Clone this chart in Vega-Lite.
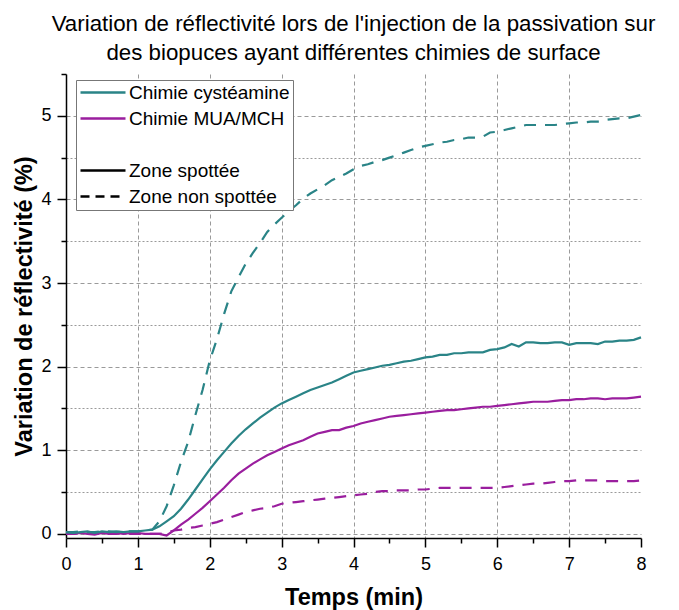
{
  "$schema": "https://vega.github.io/schema/vega-lite/v6.json",
  "width": 575,
  "height": 464,
  "autosize": {"type": "none"},
  "padding": {"left": 66, "top": 74, "right": 38, "bottom": 72},
  "background": "white",
  "config": {
    "view": {"stroke": null},
    "font": "Liberation Sans",
    "axis": {
      "domainColor": "#000", "domainWidth": 1.5, "tickColor": "#000", "tickWidth": 1.5,
      "labelFont": "Liberation Sans", "labelFontSize": 18, "labelColor": "#000",
      "titleFont": "Liberation Sans", "titleFontSize": 23.5, "titleFontWeight": "bold", "titleColor": "#000",
      "gridColor": "#9a9a9a", "gridWidth": 1
    }
  },
  "title": {
    "text": ["Variation de réflectivité lors de l'injection de la passivation sur", "des biopuces ayant différentes chimies de surface"],
    "font": "Liberation Sans", "fontSize": 22.3, "fontWeight": "normal", "color": "#000",
    "anchor": "middle", "frame": "group", "offset": 9, "lineHeight": 28.5
  },
  "datasets": {
    "cs": [
      {"t":0.0,"v":0.02},{"t":0.1,"v":0.01},{"t":0.2,"v":0.02},{"t":0.3,"v":0.03},{"t":0.4,"v":0.01},{"t":0.5,"v":0.03},{"t":0.6,"v":0.02},{"t":0.7,"v":0.03},{"t":0.8,"v":0.02},{"t":0.9,"v":0.03},
      {"t":1.0,"v":0.03},{"t":1.1,"v":0.04},{"t":1.2,"v":0.05},{"t":1.3,"v":0.09},{"t":1.4,"v":0.15},{"t":1.5,"v":0.21},{"t":1.6,"v":0.30},{"t":1.7,"v":0.41},{"t":1.8,"v":0.53},{"t":1.9,"v":0.65},
      {"t":2.0,"v":0.77},{"t":2.1,"v":0.88},{"t":2.2,"v":0.98},{"t":2.3,"v":1.08},{"t":2.4,"v":1.17},{"t":2.5,"v":1.25},{"t":2.6,"v":1.32},{"t":2.7,"v":1.39},{"t":2.8,"v":1.45},{"t":2.9,"v":1.51},
      {"t":3.0,"v":1.56},{"t":3.1,"v":1.60},{"t":3.2,"v":1.64},{"t":3.3,"v":1.68},{"t":3.4,"v":1.72},{"t":3.5,"v":1.75},{"t":3.6,"v":1.78},{"t":3.7,"v":1.81},{"t":3.8,"v":1.85},{"t":3.9,"v":1.89},
      {"t":4.0,"v":1.93},{"t":4.1,"v":1.95},{"t":4.2,"v":1.97},{"t":4.3,"v":1.99},{"t":4.4,"v":2.01},{"t":4.5,"v":2.02},{"t":4.6,"v":2.04},{"t":4.7,"v":2.06},{"t":4.8,"v":2.07},{"t":4.9,"v":2.09},
      {"t":5.0,"v":2.11},{"t":5.1,"v":2.12},{"t":5.2,"v":2.14},{"t":5.3,"v":2.14},{"t":5.4,"v":2.16},{"t":5.5,"v":2.16},{"t":5.6,"v":2.17},{"t":5.7,"v":2.17},{"t":5.8,"v":2.17},{"t":5.9,"v":2.20},
      {"t":6.0,"v":2.21},{"t":6.1,"v":2.23},{"t":6.2,"v":2.27},{"t":6.3,"v":2.24},{"t":6.4,"v":2.29},{"t":6.5,"v":2.29},{"t":6.6,"v":2.28},{"t":6.7,"v":2.28},{"t":6.8,"v":2.29},{"t":6.9,"v":2.29},
      {"t":7.0,"v":2.26},{"t":7.1,"v":2.28},{"t":7.2,"v":2.28},{"t":7.3,"v":2.28},{"t":7.4,"v":2.27},{"t":7.5,"v":2.30},{"t":7.6,"v":2.30},{"t":7.7,"v":2.31},{"t":7.8,"v":2.31},{"t":7.9,"v":2.32},
      {"t":8.0,"v":2.35}
    ],
    "cn": [
      {"t":0.0,"v":0.02},{"t":0.1,"v":0.02},{"t":0.2,"v":0.03},{"t":0.3,"v":0.02},{"t":0.4,"v":0.02},{"t":0.5,"v":0.03},{"t":0.6,"v":0.03},{"t":0.7,"v":0.02},{"t":0.8,"v":0.03},{"t":0.9,"v":0.03},
      {"t":1.0,"v":0.03},{"t":1.1,"v":0.04},{"t":1.2,"v":0.05},{"t":1.3,"v":0.15},{"t":1.4,"v":0.33},{"t":1.5,"v":0.58},{"t":1.6,"v":0.86},{"t":1.7,"v":1.10},{"t":1.8,"v":1.42},{"t":1.9,"v":1.72},
      {"t":2.0,"v":2.07},{"t":2.1,"v":2.33},{"t":2.2,"v":2.63},{"t":2.3,"v":2.90},{"t":2.4,"v":3.07},{"t":2.5,"v":3.23},{"t":2.6,"v":3.36},{"t":2.7,"v":3.48},{"t":2.8,"v":3.61},{"t":2.9,"v":3.70},
      {"t":3.0,"v":3.78},{"t":3.1,"v":3.86},{"t":3.2,"v":3.93},{"t":3.3,"v":4.01},{"t":3.4,"v":4.07},{"t":3.5,"v":4.12},{"t":3.6,"v":4.17},{"t":3.7,"v":4.23},{"t":3.8,"v":4.27},{"t":3.9,"v":4.31},
      {"t":4.0,"v":4.36},{"t":4.1,"v":4.40},{"t":4.2,"v":4.42},{"t":4.3,"v":4.45},{"t":4.4,"v":4.47},{"t":4.5,"v":4.50},{"t":4.6,"v":4.53},{"t":4.7,"v":4.56},{"t":4.8,"v":4.59},{"t":4.9,"v":4.62},
      {"t":5.0,"v":4.64},{"t":5.1,"v":4.66},{"t":5.2,"v":4.68},{"t":5.3,"v":4.69},{"t":5.4,"v":4.71},{"t":5.5,"v":4.72},{"t":5.6,"v":4.74},{"t":5.7,"v":4.74},{"t":5.8,"v":4.75},{"t":5.9,"v":4.80},
      {"t":6.0,"v":4.81},{"t":6.1,"v":4.83},{"t":6.2,"v":4.85},{"t":6.3,"v":4.87},{"t":6.4,"v":4.89},{"t":6.5,"v":4.89},{"t":6.6,"v":4.89},{"t":6.7,"v":4.89},{"t":6.8,"v":4.89},{"t":6.9,"v":4.90},
      {"t":7.0,"v":4.91},{"t":7.1,"v":4.92},{"t":7.2,"v":4.92},{"t":7.3,"v":4.93},{"t":7.4,"v":4.93},{"t":7.5,"v":4.95},{"t":7.6,"v":4.96},{"t":7.7,"v":4.97},{"t":7.8,"v":4.97},{"t":7.9,"v":4.99},
      {"t":8.0,"v":5.01}
    ],
    "ms": [
      {"t":0.0,"v":0.01},{"t":0.1,"v":0.00},{"t":0.2,"v":0.01},{"t":0.3,"v":0.00},{"t":0.4,"v":-0.01},{"t":0.5,"v":0.01},{"t":0.6,"v":0.00},{"t":0.7,"v":0.01},{"t":0.8,"v":0.00},{"t":0.9,"v":0.01},
      {"t":1.0,"v":0.01},{"t":1.1,"v":0.00},{"t":1.2,"v":0.00},{"t":1.3,"v":0.00},{"t":1.4,"v":-0.02},{"t":1.5,"v":0.04},{"t":1.6,"v":0.11},{"t":1.7,"v":0.17},{"t":1.8,"v":0.24},{"t":1.9,"v":0.31},
      {"t":2.0,"v":0.39},{"t":2.1,"v":0.47},{"t":2.2,"v":0.55},{"t":2.3,"v":0.64},{"t":2.4,"v":0.72},{"t":2.5,"v":0.78},{"t":2.6,"v":0.84},{"t":2.7,"v":0.89},{"t":2.8,"v":0.94},{"t":2.9,"v":0.98},
      {"t":3.0,"v":1.02},{"t":3.1,"v":1.06},{"t":3.2,"v":1.09},{"t":3.3,"v":1.12},{"t":3.4,"v":1.16},{"t":3.5,"v":1.20},{"t":3.6,"v":1.22},{"t":3.7,"v":1.24},{"t":3.8,"v":1.24},{"t":3.9,"v":1.27},
      {"t":4.0,"v":1.29},{"t":4.1,"v":1.32},{"t":4.2,"v":1.34},{"t":4.3,"v":1.36},{"t":4.4,"v":1.38},{"t":4.5,"v":1.40},{"t":4.6,"v":1.41},{"t":4.7,"v":1.42},{"t":4.8,"v":1.43},{"t":4.9,"v":1.44},
      {"t":5.0,"v":1.45},{"t":5.1,"v":1.46},{"t":5.2,"v":1.47},{"t":5.3,"v":1.48},{"t":5.4,"v":1.48},{"t":5.5,"v":1.49},{"t":5.6,"v":1.50},{"t":5.7,"v":1.51},{"t":5.8,"v":1.52},{"t":5.9,"v":1.52},
      {"t":6.0,"v":1.53},{"t":6.1,"v":1.54},{"t":6.2,"v":1.55},{"t":6.3,"v":1.56},{"t":6.4,"v":1.57},{"t":6.5,"v":1.58},{"t":6.6,"v":1.58},{"t":6.7,"v":1.58},{"t":6.8,"v":1.59},{"t":6.9,"v":1.60},
      {"t":7.0,"v":1.60},{"t":7.1,"v":1.61},{"t":7.2,"v":1.61},{"t":7.3,"v":1.62},{"t":7.4,"v":1.62},{"t":7.5,"v":1.61},{"t":7.6,"v":1.62},{"t":7.7,"v":1.62},{"t":7.8,"v":1.62},{"t":7.9,"v":1.63},
      {"t":8.0,"v":1.64}
    ],
    "mn": [
      {"t":0.0,"v":0.00},{"t":0.1,"v":0.00},{"t":0.2,"v":0.01},{"t":0.3,"v":0.00},{"t":0.4,"v":0.00},{"t":0.5,"v":0.01},{"t":0.6,"v":0.00},{"t":0.7,"v":0.00},{"t":0.8,"v":0.01},{"t":0.9,"v":0.00},
      {"t":1.0,"v":0.00},{"t":1.1,"v":0.00},{"t":1.2,"v":0.00},{"t":1.3,"v":0.00},{"t":1.4,"v":0.01},{"t":1.5,"v":0.04},{"t":1.6,"v":0.05},{"t":1.7,"v":0.07},{"t":1.8,"v":0.08},{"t":1.9,"v":0.10},
      {"t":2.0,"v":0.12},{"t":2.1,"v":0.14},{"t":2.2,"v":0.17},{"t":2.3,"v":0.20},{"t":2.4,"v":0.23},{"t":2.5,"v":0.26},{"t":2.6,"v":0.28},{"t":2.7,"v":0.30},{"t":2.8,"v":0.31},{"t":2.9,"v":0.33},
      {"t":3.0,"v":0.36},{"t":3.1,"v":0.37},{"t":3.2,"v":0.38},{"t":3.3,"v":0.39},{"t":3.4,"v":0.40},{"t":3.5,"v":0.41},{"t":3.6,"v":0.42},{"t":3.7,"v":0.43},{"t":3.8,"v":0.44},{"t":3.9,"v":0.45},
      {"t":4.0,"v":0.46},{"t":4.1,"v":0.47},{"t":4.2,"v":0.48},{"t":4.3,"v":0.50},{"t":4.4,"v":0.51},{"t":4.5,"v":0.51},{"t":4.6,"v":0.52},{"t":4.7,"v":0.52},{"t":4.8,"v":0.52},{"t":4.9,"v":0.53},
      {"t":5.0,"v":0.53},{"t":5.1,"v":0.54},{"t":5.2,"v":0.55},{"t":5.3,"v":0.55},{"t":5.4,"v":0.55},{"t":5.5,"v":0.55},{"t":5.6,"v":0.55},{"t":5.7,"v":0.55},{"t":5.8,"v":0.55},{"t":5.9,"v":0.55},
      {"t":6.0,"v":0.55},{"t":6.1,"v":0.56},{"t":6.2,"v":0.57},{"t":6.3,"v":0.58},{"t":6.4,"v":0.59},{"t":6.5,"v":0.60},{"t":6.6,"v":0.60},{"t":6.7,"v":0.61},{"t":6.8,"v":0.62},{"t":6.9,"v":0.63},
      {"t":7.0,"v":0.63},{"t":7.1,"v":0.64},{"t":7.2,"v":0.64},{"t":7.3,"v":0.64},{"t":7.4,"v":0.64},{"t":7.5,"v":0.63},{"t":7.6,"v":0.63},{"t":7.7,"v":0.63},{"t":7.8,"v":0.63},{"t":7.9,"v":0.63},
      {"t":8.0,"v":0.64}
    ]
  },
  "encoding": {
    "x": {
      "field": "t", "type": "quantitative", "title": "Temps (min)",
      "scale": {"domain": [0, 8], "nice": false, "zero": false},
      "axis": {
        "values": [0,0.5,1,1.5,2,2.5,3,3.5,4,4.5,5,5.5,6,6.5,7,7.5,8],
        "labelExpr": "datum.value % 1 === 0 ? format(datum.value, 'd') : ''",
        "labelFlush": false, "labelPadding": 8,
        "tickSize": {"condition": {"test": "datum.value % 1 !== 0", "value": 5}, "value": 9},
        "gridOpacity": {"condition": {"test": "datum.value % 1 !== 0 || datum.value === 0 || datum.value === 8", "value": 0}, "value": 1},
        "gridDash": [4, 3],
        "titleY": 66, "titleBaseline": "alphabetic"
      }
    },
    "y": {
      "field": "v", "type": "quantitative", "title": "Variation de réflectivité (%)",
      "scale": {"domain": [-0.05, 5.5], "nice": false, "zero": false},
      "axis": {
        "values": [0,0.5,1,1.5,2,2.5,3,3.5,4,4.5,5,5.5],
        "labelExpr": "datum.value % 1 === 0 ? format(datum.value, 'd') : ''",
        "labelPadding": 6,
        "tickSize": {"condition": {"test": "datum.value % 1 !== 0", "value": 5}, "value": 9},
        "gridOpacity": {"condition": {"test": "datum.value === 5.5", "value": 0}, "value": 1},
        "gridDash": {"condition": {"test": "datum.value % 1 !== 0", "value": [2, 2]}, "value": [4, 3]},
        "titleX": -34.5, "titleBaseline": "alphabetic"
      }
    }
  },
  "layer": [
    {
      "data": {"name": "mn"},
      "mark": {"type": "line", "strokeWidth": 2.2, "strokeDash": [12, 9]},
      "encoding": {
        "color": {"datum": "Chimie MUA/MCH"}
      }
    },
    {
      "data": {"name": "ms"},
      "mark": {"type": "line", "strokeWidth": 2.2},
      "encoding": {
        "color": {"datum": "Chimie MUA/MCH"}
      }
    },
    {
      "data": {"name": "cn"},
      "mark": {"type": "line", "strokeWidth": 2.2, "strokeDash": [12, 9]},
      "encoding": {
        "color": {"datum": "Chimie cystéamine"}
      }
    },
    {
      "data": {"name": "cs"},
      "mark": {"type": "line", "strokeWidth": 2.2},
      "encoding": {
        "color": {
          "datum": "Chimie cystéamine",
          "scale": {
            "domain": ["Chimie cystéamine", "Chimie MUA/MCH", " ", "Zone spottée", "Zone non spottée"],
            "range": ["#2a8487", "#9a1e9e", "transparent", "#000000", "#000000"]
          },
          "legend": {
            "orient": "none", "legendX": 10, "legendY": 6, "title": null,
            "symbolType": "stroke", "symbolSize": 2025, "symbolStrokeWidth": 2.5,
            "clipHeight": 19, "rowPadding": 6,
            "labelFont": "Liberation Sans", "labelFontSize": 19, "labelColor": "#000", "labelOffset": 2, "labelLimit": 400,
            "padding": 3, "strokeColor": "#777", "fillColor": "#ffffff",
            "encode": {"symbols": {"update": {"strokeDash": {"signal": "datum.value === 'Zone non spottée' ? [9, 6] : [1, 0]"}}}}
          }
        }
      }
    }
  ]
}
